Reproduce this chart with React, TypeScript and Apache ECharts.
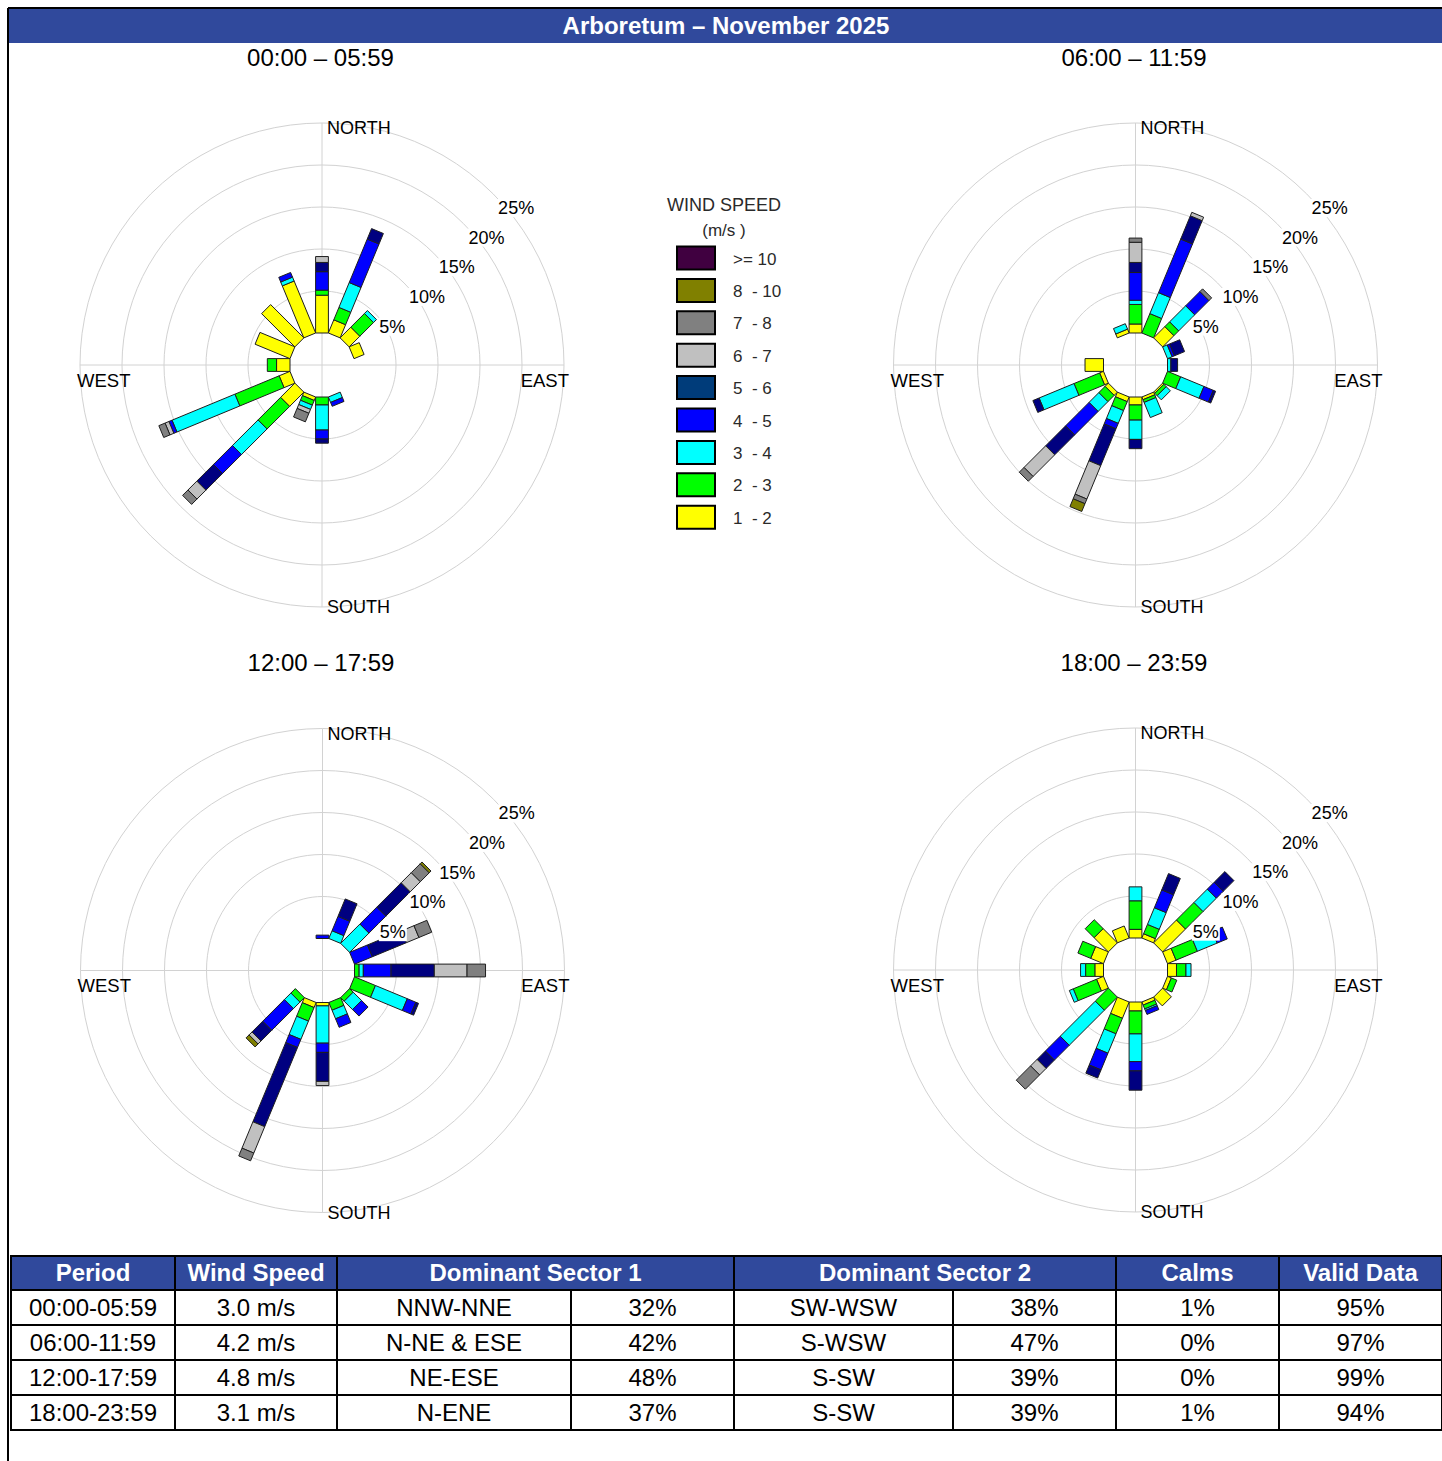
import React, { useEffect, useRef } from 'react';
import * as echarts from 'echarts';

// ---------- categories / labels ----------
const DIRECTIONS = ['N', 'NNE', 'NE', 'ENE', 'E', 'ESE', 'SE', 'SSE', 'S', 'SSW', 'SW', 'WSW', 'W', 'WNW', 'NW', 'NNW'];
const SPEED_CLASSES = ['1 - 2', '2 - 3', '3 - 4', '4 - 5', '5 - 6', '6 - 7', '7 - 8', '8 - 10', '>= 10'];
const LEGEND_LABELS = ['>= 10', '8  - 10', '7  - 8', '6  - 7', '5  - 6', '4  - 5', '3  - 4', '2  - 3', '1  - 2'];
const PERIOD_TITLES = ['00:00 \u2013 05:59', '06:00 \u2013 11:59', '12:00 \u2013 17:59', '18:00 \u2013 23:59'];
const RING_VALUES = [5, 10, 15, 20, 25];
const RING_LABELS = ['5%', '10%', '15%', '20%', '25%'];
const TITLE = 'Arboretum \u2013 November 2025';

// ---------- wind frequencies (% of hours), by direction N..NNW ----------
// 00:00 - 05:59
const p1_1_2 = [4.5, 1.7, 1.8, 1.3, 0, 0, 0, 0, 0, 0.45, 2.4, 1.4, 1.6, 4.5, 5.6, 6.7];
const p1_2_3 = [0.6, 1.6, 2.3, 0, 0, 0, 0, 0, 0.95, 0.6, 3.8, 5.7, 1.1, 0, 0, 0];
const p1_3_4 = [0, 3.2, 0.5, 0, 0, 0, 0, 0.7, 2.98, 0.55, 4.3, 8.1, 0, 0, 0, 0.5];
const p1_4_5 = [2.2, 5.6, 0, 0, 0, 0, 0, 0.5, 1.07, 0, 3.2, 0.4, 0, 0, 0, 0.6];
const p1_5_6 = [1.1, 1.35, 0, 0, 0, 0, 0, 0, 0.5, 0, 2.8, 0, 0, 0, 0, 0];
const p1_6_7 = [0.7, 0, 0, 0, 0, 0, 0, 0, 0, 0.5, 1.5, 0.5, 0, 0, 0, 0];
const p1_7_8 = [0, 0, 0, 0, 0, 0, 0, 0, 0, 1.1, 0.9, 0.8, 0, 0, 0, 0];
const p1_8_10 = [0, 0, 0, 0, 0, 0, 0, 0, 0, 0, 0, 0, 0, 0, 0, 0];
const p1_10 = [0, 0, 0, 0, 0, 0, 0, 0, 0, 0, 0, 0, 0, 0, 0, 0];

// 06:00 - 11:59
const p2_1_2 = [1.07, 0, 1.9, 0, 0, 0, 0.2, 0.35, 0.95, 0.6, 0.55, 0.5, 2.2, 0, 0, 0.5];
const p2_2_3 = [2.33, 2.5, 0.8, 0, 0, 1.7, 0.4, 0.35, 1.8, 1.15, 1.05, 3.3, 0, 0, 0, 0];
const p2_3_4 = [0.5, 2.7, 2.7, 0.6, 0.4, 3.0, 0.7, 1.95, 2.3, 1.65, 1.65, 4.5, 0, 0, 0, 0.7];
const p2_4_5 = [3.3, 6.9, 2.4, 0.3, 0, 1.2, 0, 0, 0, 0.7, 3.95, 0, 0, 0, 0, 0];
const p2_5_6 = [1.2, 3.0, 0, 1.3, 0.8, 0.3, 0, 0, 1.1, 4.75, 3.35, 0.8, 0, 0, 0, 0];
const p2_6_7 = [2.4, 0.45, 0, 0, 0, 0, 0, 0, 0, 4.3, 3.65, 0, 0, 0, 0, 0];
const p2_7_8 = [0.5, 0, 0.45, 0, 0, 0, 0, 0, 0, 0.6, 0.8, 0, 0, 0, 0, 0];
const p2_8_10 = [0, 0, 0, 0, 0, 0, 0, 0, 0, 1.0, 0, 0, 0, 0, 0, 0];
const p2_10 = [0, 0, 0, 0, 0, 0, 0, 0, 0, 0, 0, 0, 0, 0, 0, 0];

// 12:00 - 17:59
const p3_1_2 = [0, 0, 0, 0, 0, 0, 0, 0, 0.4, 0.65, 0, 0, 0, 0, 0, 0];
const p3_2_3 = [0, 0, 0, 0, 0.55, 2.7, 0.6, 1.0, 0, 1.75, 0.75, 0, 0, 0, 0, 0];
const p3_3_4 = [0, 1.0, 3.25, 0, 0.5, 4.1, 1.4, 1.1, 4.44, 2.35, 1.1, 0, 0, 0, 0, 0];
const p3_4_5 = [0.4, 1.85, 2.85, 2.3, 3.3, 1.1, 1.1, 1.1, 1.1, 1.05, 3.65, 0, 0, 0, 0, 0];
const p3_5_6 = [0, 2.25, 4.1, 4.4, 5.15, 0.35, 0, 0, 3.45, 10.2, 1.8, 0, 0, 0, 0, 0];
const p3_6_7 = [0, 0, 1.7, 1.6, 3.9, 0, 0, 0, 0.5, 3.4, 0.5, 0, 0, 0, 0, 0];
const p3_7_8 = [0, 0, 1.5, 1.65, 2.2, 0, 0, 0, 0, 1.0, 0, 0, 0, 0, 0, 0];
const p3_8_10 = [0, 0, 0.3, 0, 0, 0, 0, 0, 0, 0, 0.5, 0, 0, 0, 0, 0];
const p3_10 = [0, 0, 0, 0, 0, 0, 0, 0, 0, 0, 0, 0, 0, 0, 0, 0];

// 18:00 - 23:59
const p4_1_2 = [1.03, 0.55, 3.85, 1.1, 1.07, 0.5, 1.47, 0.4, 1.07, 2.1, 0, 0.9, 1.03, 1.65, 2.4, 1.55];
const p4_2_3 = [3.4, 1.2, 2.95, 2.75, 1.13, 0.7, 0, 0.5, 2.73, 2.0, 2.2, 3.0, 1.1, 1.65, 1.5, 0];
const p4_3_4 = [1.66, 2.15, 2.25, 2.55, 0.6, 0, 0, 0.2, 3.3, 2.5, 5.9, 0.5, 0.6, 0, 0, 0];
const p4_4_5 = [0, 2.3, 1.15, 1.3, 0, 0, 0, 0.5, 1.1, 2.15, 2.5, 0, 0, 0, 0, 0];
const p4_5_6 = [0, 2.1, 1.8, 0, 0, 0, 0, 0, 2.3, 1.05, 1.4, 0, 0, 0, 0, 0];
const p4_6_7 = [0, 0, 0, 0, 0, 0, 0, 0, 0, 0, 1.1, 0, 0, 0, 0, 0];
const p4_7_8 = [0, 0, 0, 0, 0, 0, 0, 0, 0, 0, 2.4, 0, 0, 0, 0, 0];
const p4_8_10 = [0, 0, 0, 0, 0, 0, 0, 0, 0, 0, 0, 0, 0, 0, 0, 0];
const p4_10 = [0, 0, 0, 0, 0, 0, 0, 0, 0, 0, 0, 0, 0, 0, 0, 0];

// ---------- table ----------
const TABLE_HEADERS = ['Period', 'Wind Speed', 'Dominant Sector 1', 'Dominant Sector 2', 'Calms', 'Valid Data'];
const PERIODS = ['00:00-05:59', '06:00-11:59', '12:00-17:59', '18:00-23:59'];
const MEAN_SPEED = ['3.0 m/s', '4.2 m/s', '4.8 m/s', '3.1 m/s'];
const SECTOR1 = ['NNW-NNE', 'N-NE & ESE', 'NE-ESE', 'N-ENE'];
const SECTOR1_PCT = ['32%', '42%', '48%', '37%'];
const SECTOR2 = ['SW-WSW', 'S-WSW', 'S-SW', 'S-SW'];
const SECTOR2_PCT = ['38%', '47%', '39%', '39%'];
const CALMS = ['1%', '0%', '0%', '1%'];
const VALID = ['95%', '97%', '99%', '94%'];

// ---------- styling ----------
const FONT = '"Liberation Sans", Arial, Helvetica, sans-serif';
const BAR_COLORS = ['#FFFF00', '#00FF00', '#00FFFF', '#0000FF', '#000080', '#C0C0C0', '#808080', '#808000', '#400040'];
const LEGEND_COLORS = ['#400040', '#808000', '#808080', '#C0C0C0', '#003C7A', '#0000FF', '#00FFFF', '#00FF00', '#FFFF00'];
const HEADER_BLUE = '#30499C';
const GRID = '#d2d2d2';
const HOLE = 32;
const PX_PER_PCT = 8.4;
const MAX_PCT = 25;
const OUTER = HOLE + MAX_PCT * PX_PER_PCT;
const BAR_HALF = 6.4;
const CENTERS = [[322, 365], [1135.5, 365], [322.5, 970.5], [1135.5, 970]];

const ROSES = [
  [p1_1_2, p1_2_3, p1_3_4, p1_4_5, p1_5_6, p1_6_7, p1_7_8, p1_8_10, p1_10],
  [p2_1_2, p2_2_3, p2_3_4, p2_4_5, p2_5_6, p2_6_7, p2_7_8, p2_8_10, p2_10],
  [p3_1_2, p3_2_3, p3_3_4, p3_4_5, p3_5_6, p3_6_7, p3_7_8, p3_8_10, p3_10],
  [p4_1_2, p4_2_3, p4_3_4, p4_4_5, p4_5_6, p4_6_7, p4_7_8, p4_8_10, p4_10],
];

function segmentsFor(classes: number[][]) {
  const out: number[][] = [];
  DIRECTIONS.forEach((_, d) => {
    let acc = 0;
    classes.forEach((arr, c) => {
      const v = arr[d];
      if (v > 0) {
        out.push([acc, acc + v, d * 22.5, c]);
        acc += v;
      }
    });
  });
  return out;
}

function txt(text: string, x: number, y: number, size: number, align: string, valign: string, extra: any = {}) {
  return {
    type: 'text',
    x,
    y,
    z: extra.z ?? 10,
    style: {
      text,
      font: `${extra.weight || 'normal'} ${size}px ${FONT}`,
      fill: extra.fill || '#000',
      align,
      verticalAlign: valign,
      textAlign: align,
      textVerticalAlign: valign,
      ...(extra.bg ? { backgroundColor: extra.bg, padding: [0, 1] } : {}),
    },
  };
}

function buildOption() {
  const polar: any[] = [];
  const angleAxis: any[] = [];
  const radiusAxis: any[] = [];
  const series: any[] = [];
  const graphic: any[] = [];

  // frame + title
  graphic.push({ type: 'rect', shape: { x: 9, y: 9, width: 1433, height: 34 }, style: { fill: HEADER_BLUE }, z: 1 });
  graphic.push({ type: 'line', shape: { x1: 8, y1: 8, x2: 1442, y2: 8 }, style: { stroke: '#000', lineWidth: 2 }, z: 2 });
  graphic.push({ type: 'line', shape: { x1: 8, y1: 8, x2: 8, y2: 1461 }, style: { stroke: '#000', lineWidth: 2 }, z: 2 });
  graphic.push(txt(TITLE, 726, 25, 24, 'center', 'middle', { weight: 'bold', fill: '#fff' }));

  CENTERS.forEach(([cx, cy], i) => {
    // crosshair
    const a = polar.length;
    polar.push({ center: [cx, cy], radius: [0, OUTER] });
    angleAxis.push({
      polarIndex: a, type: 'value', min: 0, max: 360, interval: 90, startAngle: 90,
      axisLine: { show: false }, axisTick: { show: false }, axisLabel: { show: false },
      splitLine: { show: true, lineStyle: { color: GRID, width: 1 } },
    });
    radiusAxis.push({ polarIndex: a, type: 'value', min: 0, max: MAX_PCT, show: false });
    // rings
    const b = polar.length;
    polar.push({ center: [cx, cy], radius: [HOLE + RING_VALUES[0] * PX_PER_PCT, OUTER] });
    angleAxis.push({ polarIndex: b, type: 'value', min: 0, max: 360, show: false });
    radiusAxis.push({
      polarIndex: b, type: 'value', min: 5, max: 25, interval: 5,
      axisLine: { show: false }, axisTick: { show: false }, axisLabel: { show: false },
      splitLine: { show: true, lineStyle: { color: GRID, width: 1 } },
    });
    // bars
    const c = polar.length;
    polar.push({ center: [cx, cy], radius: [HOLE, OUTER] });
    angleAxis.push({ polarIndex: c, type: 'value', min: 0, max: 360, startAngle: 90, clockwise: true, show: false });
    radiusAxis.push({ polarIndex: c, type: 'value', min: 0, max: MAX_PCT, show: false });

    series.push({
      type: 'custom',
      name: PERIOD_TITLES[i],
      coordinateSystem: 'polar',
      polarIndex: c,
      dimensions: ['r0', 'r1', 'angle', 'cls'],
      encode: { radius: 1, angle: 2 },
      data: segmentsFor(ROSES[i]),
      z: 3,
      renderItem: (params: any, api: any) => {
        const r0 = api.value(0);
        const r1 = api.value(1);
        const ang = api.value(2);
        const ci = api.value(3);
        const p0 = api.coord([r0, ang]);
        const p1 = api.coord([r1, ang]);
        const n = api.coord([0, ang]);
        const f = api.coord([MAX_PCT, ang]);
        let ux = f[0] - n[0];
        let uy = f[1] - n[1];
        const len = Math.hypot(ux, uy) || 1;
        ux /= len; uy /= len;
        const px = -uy * BAR_HALF;
        const py = ux * BAR_HALF;
        return {
          type: 'polygon',
          shape: {
            points: [
              [p0[0] + px, p0[1] + py],
              [p1[0] + px, p1[1] + py],
              [p1[0] - px, p1[1] - py],
              [p0[0] - px, p0[1] - py],
            ],
          },
          style: { fill: BAR_COLORS[ci], stroke: '#1e1e1e', lineWidth: 1 },
        };
      },
    });

    // subtitle
    graphic.push(txt(PERIOD_TITLES[i], cx - 1.5, cy - 308, 24, 'center', 'middle'));
    // compass labels
    graphic.push(txt('NORTH', cx + 5, cy - OUTER + 5, 18, 'left', 'middle'));
    graphic.push(txt('SOUTH', cx + 5, cy + OUTER, 18, 'left', 'middle'));
    graphic.push(txt('WEST', cx - OUTER - 3, cy + 15, 18.5, 'left', 'middle'));
    graphic.push(txt('EAST', cx + OUTER + 5, cy + 15, 18.5, 'right', 'middle'));
    // ring labels
    RING_VALUES.forEach((v, k) => {
      const r = HOLE + v * PX_PER_PCT;
      graphic.push(txt(RING_LABELS[k], cx + r * Math.SQRT1_2 + 4, cy - r * Math.SQRT1_2 + 5, 18, 'left', 'top', { bg: '#fff', z: 50 }));
    });
  });

  // legend
  graphic.push(txt('WIND SPEED', 724, 205, 18, 'center', 'middle', { fill: '#2a2a2a' }));
  graphic.push(txt('(m/s )', 724, 230, 17, 'center', 'middle', { fill: '#2a2a2a' }));
  LEGEND_LABELS.forEach((lab, k) => {
    const yc = 258 + k * 32.4;
    graphic.push({ type: 'rect', shape: { x: 677, y: yc - 11.5, width: 38, height: 23 }, style: { fill: LEGEND_COLORS[k], stroke: '#000', lineWidth: 2 }, z: 10 });
    graphic.push(txt(lab, 733, yc + 1, 17, 'left', 'middle', { fill: '#2a2a2a' }));
  });

  return {
    animation: false,
    backgroundColor: '#fff',
    polar,
    angleAxis,
    radiusAxis,
    series,
    graphic,
  };
}

const COL_X = [11, 175, 337, 571, 734, 953, 1116, 1279, 1442];
const ROW_Y = [1256, 1290, 1325, 1360, 1395, 1430];

function Cell({ a, b, r, text, header }: { a: number; b: number; r: number; text: string; header?: boolean }) {
  return (
    <div
      style={{
        position: 'absolute',
        left: COL_X[a] + 1,
        top: ROW_Y[r] + 1,
        width: COL_X[b] - COL_X[a] - 2,
        height: ROW_Y[r + 1] - ROW_Y[r] - 2,
        background: header ? HEADER_BLUE : '#fff',
        color: header ? '#fff' : '#000',
        fontFamily: FONT,
        fontWeight: header ? 'bold' : 'normal',
        fontSize: 24,
        display: 'flex',
        alignItems: 'center',
        justifyContent: 'center',
        whiteSpace: 'nowrap',
        lineHeight: 1,
      }}
    >
      {text}
    </div>
  );
}

function SummaryTable() {
  const headerSpans = [[0, 1], [1, 2], [2, 4], [4, 6], [6, 7], [7, 8]];
  const cells: any[] = [];
  headerSpans.forEach(([a, b], k) => cells.push(<Cell key={'h' + k} a={a} b={b} r={0} text={TABLE_HEADERS[k]} header />));
  PERIODS.forEach((p, i) => {
    const row = [p, MEAN_SPEED[i], SECTOR1[i], SECTOR1_PCT[i], SECTOR2[i], SECTOR2_PCT[i], CALMS[i], VALID[i]];
    row.forEach((t, j) => cells.push(<Cell key={`c${i}_${j}`} a={j} b={j + 1} r={i + 1} text={t} />));
  });
  return (
    <>
      <div style={{ position: 'absolute', left: COL_X[0] - 1, top: ROW_Y[0] - 1, width: 1442 - (COL_X[0] - 1), height: ROW_Y[5] - ROW_Y[0] + 2, background: '#000' }} />
      {cells}
    </>
  );
}

export default function App() {
  const ref = useRef<HTMLDivElement>(null);
  useEffect(() => {
    if (!ref.current) return;
    const chart = echarts.init(ref.current, null, { renderer: 'svg' });
    chart.setOption(buildOption() as any);
    return () => chart.dispose();
  }, []);
  return (
    <div style={{ position: 'absolute', left: 0, top: 0, width: 1442, height: 1461, background: '#fff', overflow: 'hidden' }}>
      <div ref={ref} style={{ position: 'absolute', left: 0, top: 0, width: 1442, height: 1461 }} />
      <SummaryTable />
    </div>
  );
}
